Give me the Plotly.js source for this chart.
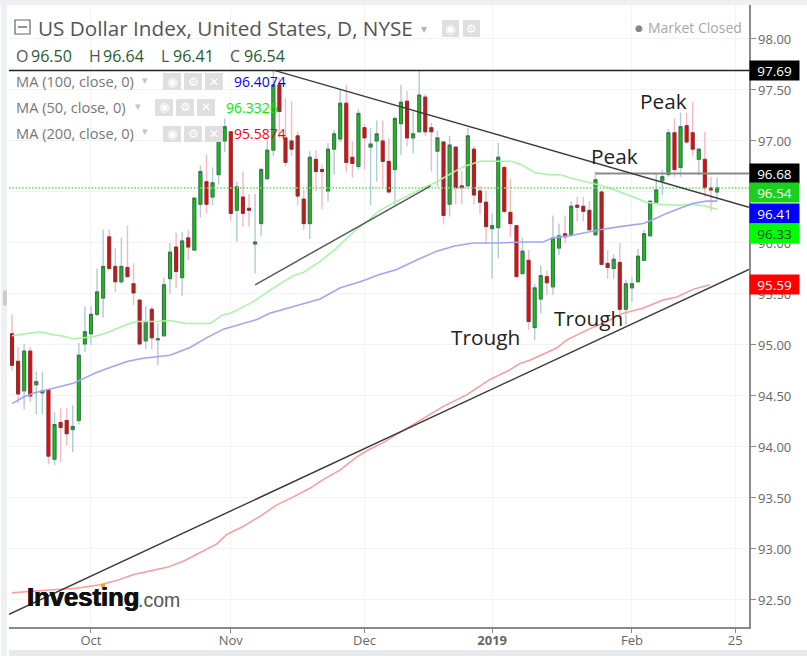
<!DOCTYPE html>
<html>
<head>
<meta charset="utf-8">
<script src="https://cdn.plot.ly/plotly-3.0.1.min.js"></script>
<style>
html,body{margin:0;padding:0;background:#fff;overflow:hidden}
#chart{position:absolute;left:0;top:0;width:807px;height:656px}
.band{position:absolute;background:#eef0f4;pointer-events:none}
</style>
</head>
<body>
<div id="chart"></div>
<div class="band" style="left:1px;top:0;width:6px;height:656px"></div>
<div class="band" style="left:0;top:0;width:807px;height:5px"></div>
<div class="band" style="left:9px;top:650px;width:798px;height:6px;background:#e8e9ec"></div>
<div class="band" style="left:3px;top:290px;width:4px;height:16px;background:#c9ccd1;border-radius:3px"></div>
<script>
// Candles, one entry per session (session number is the x value)
const opens = [95.11,94.84,94.55,94.94,94.61,94.53,94.56,93.88,94.24,94.26,94.17,94.26,95.01,95.11,95.30,95.46,96.06,95.77,95.62,95.76,
95.60,95.44,95.04,95.35,95.05,95.09,95.65,95.96,95.66,96.05,95.93,96.38,96.60,96.45,96.67,97.00,97.09,96.32,96.45,96.34,
95.99,96.19,96.63,96.91,97.55,97.03,97.00,97.05,96.43,96.19,96.82,96.72,96.51,96.92,97.02,97.37,96.84,96.75,97.13,96.94,
97.00,97.00,96.80,96.72,97.17,97.39,97.03,97.09,97.43,97.13,96.90,96.99,96.38,96.94,96.56,96.56,96.92,96.51,96.40,96.14,
96.15,96.74,96.30,96.17,95.70,95.83,95.17,95.45,95.67,95.57,95.95,96.09,96.08,96.37,96.36,96.32,96.08,96.50,95.80,95.75,
95.81,95.35,95.56,95.62,95.83,96.07,96.40,96.61,96.67,97.08,96.74,97.15,97.08,96.82,96.82,96.54,96.50];
const highs = [95.30,94.98,95.01,94.98,94.74,94.74,94.57,94.34,94.38,94.38,94.41,95.02,95.38,95.38,95.75,96.13,96.13,95.95,96.05,96.17,
95.80,95.44,95.38,95.38,95.21,95.66,96.00,96.10,96.11,96.13,96.44,96.76,96.87,96.74,97.04,97.22,97.09,96.60,96.70,96.48,
96.48,96.74,97.00,97.69,97.62,97.42,97.39,97.09,96.52,96.90,96.91,96.77,96.98,97.11,97.50,97.55,97.00,97.31,97.17,97.13,
97.20,97.20,97.03,97.24,97.55,97.49,97.29,97.69,97.46,97.18,97.10,97.00,97.05,96.95,96.70,97.13,96.95,96.56,96.51,96.29,
96.98,96.76,96.63,96.17,96.05,95.93,95.60,95.78,95.73,96.27,96.19,96.27,96.41,96.45,96.45,96.41,96.70,96.52,95.93,95.89,
96.00,95.64,95.67,95.94,96.13,96.40,96.68,96.72,97.12,97.22,97.28,97.28,97.38,96.93,97.09,96.65,96.64];
const lows = [94.75,94.43,94.37,94.44,94.32,94.32,93.83,93.82,93.85,94.02,93.95,94.22,94.93,95.00,95.28,95.27,95.73,95.52,95.60,95.66,
95.39,95.00,94.96,94.96,94.80,95.08,95.50,95.56,95.48,95.83,95.93,96.25,96.29,96.37,96.57,96.89,96.22,96.01,96.16,96.16,
95.70,96.07,96.63,96.85,97.03,96.75,96.85,96.37,96.13,96.04,96.51,96.33,96.41,96.67,96.99,96.69,96.64,96.72,96.72,96.37,
96.60,96.55,96.50,96.37,96.86,96.95,96.88,97.08,97.05,96.70,96.55,96.18,96.26,96.38,96.38,96.53,96.38,96.28,96.00,95.65,
95.85,96.29,96.06,95.66,95.69,95.15,95.05,95.31,95.49,95.49,95.88,96.00,96.06,96.21,96.21,96.12,96.07,95.78,95.65,95.65,
95.25,95.20,95.42,95.61,95.83,96.06,96.39,96.47,96.65,96.65,96.65,96.97,96.86,96.67,96.45,96.31,96.41];
const closes = [94.80,94.52,94.94,94.50,94.64,94.55,93.91,94.22,94.19,94.13,94.20,94.90,95.13,95.30,95.52,95.77,95.75,95.62,95.77,95.67,
95.51,95.01,95.23,95.07,95.06,95.59,95.91,95.72,96.02,95.96,96.44,96.70,96.38,96.59,97.02,97.14,96.29,96.55,96.29,96.32,
96.01,96.72,96.91,97.55,97.29,96.79,96.92,96.46,96.19,96.84,96.70,96.70,96.92,97.07,97.37,96.79,96.78,97.27,97.03,96.97,
97.07,96.80,96.50,97.22,97.38,97.03,97.07,97.45,97.09,97.09,97.03,96.27,96.96,96.54,96.54,97.05,96.47,96.40,96.16,96.17,
96.84,96.31,96.19,95.67,95.92,95.23,95.56,95.68,95.61,96.05,96.07,96.06,96.36,96.35,96.31,96.13,96.62,95.79,95.76,95.84,
95.35,95.60,95.60,95.87,96.09,96.41,96.52,96.65,97.08,96.72,97.14,96.99,96.92,96.92,96.54,96.52,96.54];
const sessions = opens.map((_, i) => i);

// Moving averages: session, value pairs
const ma50Sessions = [0,2,4.6,6.8,8.2,10.1,12,13.4,15.6,18.9,20.5,23.8,26,28.7,32.6,34.5,35.9,39.7,43,46.3,47.9,50.7,53.4,56.2,58.4,60.5,62.7,65,67.7,69.9,72,74.3,75.9,77,80.3,82.2,83.9,86,88.5,90.2,91.8,95.1,97.8,100.5,102.8,104.4,106.6,109.9,112,114.3,116];
const ma50Values = [95.09,95.11,95.13,95.10,95.09,95.06,95.07,95.08,95.12,95.20,95.23,95.23,95.24,95.21,95.21,95.29,95.31,95.425,95.56,95.68,95.71,95.82,95.95,96.11,96.21,96.32,96.39,96.46,96.54,96.60,96.67,96.75,96.78,96.80,96.80,96.80,96.765,96.69,96.67,96.67,96.64,96.59,96.55,96.49,96.44,96.40,96.38,96.37,96.38,96.36,96.33];
const ma100Sessions = [0,1.9,3.6,7.3,10.1,11.7,13.9,16.1,19.1,21.6,24.1,26,29.3,32,34.8,37.5,40.3,42.4,44.1,47.9,50.7,54,57.3,60.5,63.3,66.5,69.9,72.8,75.9,79.7,82.5,84.2,87.4,89,91.8,95.1,96.7,100,103.9,105.5,107.7,109.9,112.1,114.3,116];
const ma100Values = [94.425,94.49,94.53,94.58,94.625,94.67,94.73,94.78,94.84,94.87,94.89,94.90,94.975,95.07,95.155,95.20,95.25,95.31,95.34,95.40,95.45,95.56,95.62,95.69,95.74,95.83,95.92,95.97,96.00,96.00,96.01,96.01,96.01,96.05,96.07,96.11,96.13,96.16,96.19,96.23,96.29,96.34,96.39,96.41,96.41];
const ma200Sessions = [0,3,6.8,10.6,14.5,17.2,20,22.7,25.5,28.2,30.9,33.7,35.3,38,40.8,43.5,46.3,49,51.2,54,56.8,58.6,61,65,68.3,70.9,74.8,78.6,81.9,83.6,85.2,87.4,89.6,91.3,95.1,97.9,100.5,103.8,107.1,109.4,112,114.8];
const ma200Values = [92.57,92.58,92.60,92.615,92.65,92.69,92.75,92.785,92.82,92.88,92.965,93.05,93.14,93.22,93.32,93.43,93.51,93.595,93.68,93.775,93.905,93.97,94.04,94.18,94.30,94.395,94.51,94.66,94.755,94.82,94.85,94.91,94.97,95.05,95.16,95.23,95.31,95.36,95.44,95.47,95.545,95.59];

// Drawn trend lines
const xMin = -0.49, xMax = 121.26;
const topTrendX = [43.3, xMax],   topTrendY = [97.69, 96.35];
const midTrendX = [40, 68.9],     midTrendY = [95.59, 96.56];
const lowTrendX = [xMin, xMax],   lowTrendY = [92.36, 95.74];
const highLineX = [xMin, xMax],   highLineY = [97.69, 97.69];
const peakLineX = [96, xMax],     peakLineY = [96.68, 96.68];
const priceLineX = [xMin, xMax],  priceLineY = [96.54, 96.54];

// Axis labels
const yTicks = [92.5,93,93.5,94,94.5,95,95.5,96,96.5,97,97.5,98];
const yTickText = ['92.50','93.00','93.50','94.00','94.50','95.00','95.50','96.00','96.50','97.00','97.50','98.00'];
const xTicks = [13,36,58,79,102,119];
const xTickText = ['Oct','Nov','Dec','<b>2019</b>','Feb','25'];

// Price badges on the right axis: text, value, background, text colour, nudge
const badgeText = ['97.69','96.68','96.54','96.41','96.33','95.59'];
const badgeValue = [97.69,96.68,96.54,96.41,96.33,95.59];
const badgeFill = ['#000000','#000000','#1ccf1c','#0000ff','#00ff00','#ff0000'];
const badgeInk = ['#ffffff','#ffffff','#ffffff','#ffffff','#14501e','#ffffff'];
const badgeNudge = [0,0,-5,-12,-24,0];

const W = 807, H = 656, L = 9, R = 749, T = 5, B = 627;
const SANS = '"Open Sans", sans-serif';
const plotX = v => (v - L) / (R - L), plotY = v => (B - v) / (B - T);

const UP = '#0fc40f', DOWN = '#e00b0b';
const traces = [
  {type:'candlestick', x:sessions, open:opens, high:highs, low:lows, close:closes, width:0.6, whiskerwidth:0,
   increasing:{line:{color:'#aecdd4', width:1.4}, fillcolor:'#aecdd4'},
   decreasing:{line:{color:'#f6b9c2', width:1.4}, fillcolor:'#f6b9c2'}, hoverinfo:'skip'},
  {type:'candlestick', x:sessions, open:opens, close:closes,
   high:opens.map((o,i)=>Math.max(o,closes[i])), low:opens.map((o,i)=>Math.min(o,closes[i])),
   width:0.62, whiskerwidth:0,
   increasing:{line:{color:'#47694f', width:1}, fillcolor:UP},
   decreasing:{line:{color:'#7d3434', width:1}, fillcolor:DOWN}, hoverinfo:'skip'},
  {type:'scatter', mode:'lines', x:ma50Sessions, y:ma50Values, line:{color:'#a4f7a0', width:1.5}, hoverinfo:'skip'},
  {type:'scatter', mode:'lines', x:ma100Sessions, y:ma100Values, line:{color:'#a3a3fb', width:1.6}, hoverinfo:'skip'},
  {type:'scatter', mode:'lines', x:ma200Sessions, y:ma200Values, line:{color:'#fb9a9a', width:1.5}, hoverinfo:'skip'},
  {type:'scatter', mode:'lines', x:priceLineX, y:priceLineY, line:{color:'#6ee66e', width:1.8, dash:'1.5px,1.8px'}, hoverinfo:'skip'},
  {type:'scatter', mode:'lines', x:highLineX, y:highLineY, line:{color:'#222222', width:1.5}, hoverinfo:'skip'},
  {type:'scatter', mode:'lines', x:peakLineX, y:peakLineY, line:{color:'#8a8a8a', width:2}, hoverinfo:'skip'},
  {type:'scatter', mode:'lines', x:topTrendX, y:topTrendY, line:{color:'#3c3c3c', width:1.4}, hoverinfo:'skip'},
  {type:'scatter', mode:'lines', x:midTrendX, y:midTrendY, line:{color:'#5a5a5a', width:1.5}, hoverinfo:'skip'},
  {type:'scatter', mode:'lines', x:lowTrendX, y:lowTrendY, line:{color:'#3a3a3a', width:1.4}, hoverinfo:'skip'}
];

const annotations = [];
function label(x, y, text, size, color, anchor, family) {
  annotations.push({xref:'paper', yref:'paper', x:plotX(x), y:plotY(y), text, showarrow:false,
    xanchor:anchor||'left', yanchor:'middle', borderpad:0,
    font:{family:family||SANS, size, color}});
}
const shapes = [];
function box(x0, y0, x1, y1, fill, line) {
  shapes.push({type:'rect', xref:'paper', yref:'paper', layer:'above',
    x0:plotX(x0), x1:plotX(x1), y0:plotY(y0), y1:plotY(y1),
    fillcolor:fill, line:{color:line||fill, width:line?1.2:0}});
}
function controls(left, top, bottom) {
  [0,21,42].forEach((dx, k) => {
    box(left+dx, top, left+dx+18, bottom, '#dfdfdf');
    label(left+dx+9, (top+bottom)/2, ['◉','⚙','✕'][k], 12, '#ffffff', 'center', 'DejaVu Sans');
  });
}

// Header
box(15, 20, 30, 34, 'rgba(255,255,255,0)', '#666666');
shapes.push({type:'line', xref:'paper', yref:'paper', layer:'above',
  x0:plotX(18), x1:plotX(27), y0:plotY(27), y1:plotY(27), line:{color:'#666666', width:1.4}});
label(37, 28, 'US Dollar Index, United States, D, NYSE', 20.7, '#555555');
label(424, 28.5, '▾', 12, '#b5b5b5', 'center', 'DejaVu Sans');
[442,463].forEach((x,k) => {
  box(x, 20, x+17, 37, '#dfdfdf');
  label(x+8.5, 28.5, ['◉','⚙'][k], 12, '#ffffff', 'center', 'DejaVu Sans');
});
label(639, 28, '●', 9, '#888888', 'center', 'DejaVu Sans');
label(647, 28, 'Market Closed', 14, '#a8a8a8');

// OHLC row
[['O',15,'96.50',30],['H',88,'96.64',102],['L',160,'96.41',172],['C',229,'96.54',243]].forEach(r => {
  label(r[1], 56, r[0], 16, '#555555');
  label(r[3], 56, r[2], 16, '#1f5c33');
});

// Moving average rows
label(15, 81, 'MA (100, close, 0)', 14.6, '#777777');
label(145, 80, '▾', 11, '#c4c4c4', 'center', 'DejaVu Sans');
controls(163, 73, 90);
label(233, 81, '96.4074', 14, '#0000ff');
label(15, 107, 'MA (50, close, 0)', 14.6, '#777777');
label(138, 106, '▾', 11, '#c4c4c4', 'center', 'DejaVu Sans');
controls(155, 99, 116);
label(225, 107, '96.3326', 14, '#00ee00');
label(15, 133, 'MA (200, close, 0)', 14.6, '#777777');
label(145, 132, '▾', 11, '#c4c4c4', 'center', 'DejaVu Sans');
controls(163, 126, 142);
label(233, 133, '95.5874', 14, '#ff0000');

// Chart notes
label(663, 101, 'Peak', 20.8, '#222222', 'center');
label(614, 156, 'Peak', 20.8, '#222222', 'center');
label(485, 337, 'Trough', 20.8, '#222222', 'center');
label(588, 318, 'Trough', 20.8, '#222222', 'center');

// Logo
annotations.push({xref:'paper', yref:'paper', x:plotX(25), y:plotY(597), text:'<b>Investing</b>', showarrow:false,
  xanchor:'left', yanchor:'middle', font:{family:'"Liberation Sans"', size:25.6, color:'#111111', shadow:'0.5px 0 0 #111111, -0.4px 0 0 #111111'}});
label(137, 600, '.com', 19.5, '#555555', 'left', '"Liberation Sans"');
box(101, 584, 105, 587, '#f6a623');

// Badges
badgeText.forEach((t, k) => {
  annotations.push({xref:'paper', yref:'y', x:1, y:badgeValue[k], yshift:badgeNudge[k], text:t, showarrow:false,
    xanchor:'left', yanchor:'middle', width:49, height:19, align:'center', bgcolor:badgeFill[k], borderpad:0,
    font:{family:SANS, size:13.5, color:badgeInk[k]}});
});

const layout = {
  width:W, height:H, showlegend:false, hovermode:false, dragmode:false,
  paper_bgcolor:'#ffffff', plot_bgcolor:'#ffffff',
  margin:{l:L, r:W-R, t:T, b:H-B, pad:0},
  xaxis:{type:'linear', range:[xMin,xMax], tickmode:'array', tickvals:xTicks, ticktext:xTickText,
    showgrid:true, gridcolor:'#f3f3f3', gridwidth:1, zeroline:false,
    showline:true, linecolor:'#8a8a8a', linewidth:1.5, ticks:'outside', ticklen:4, tickcolor:'#8a8a8a',
    ticklabelstandoff:-3,
    tickfont:{family:SANS, size:13, color:'#666666'}, rangeslider:{visible:false}},
  yaxis:{side:'right', range:[92.235,98.333], tickmode:'array', tickvals:yTicks, ticktext:yTickText,
    showgrid:true, gridcolor:'#f3f3f3', gridwidth:1, zeroline:false,
    showline:true, linecolor:'#8a8a8a', linewidth:1.5, ticks:'outside', ticklen:5, tickcolor:'#8a8a8a',
    tickfont:{family:SANS, size:13, color:'#666666'}},
  annotations, shapes
};
Plotly.newPlot('chart', traces, layout, {displayModeBar:false, staticPlot:true});
</script>
</body>
</html>
